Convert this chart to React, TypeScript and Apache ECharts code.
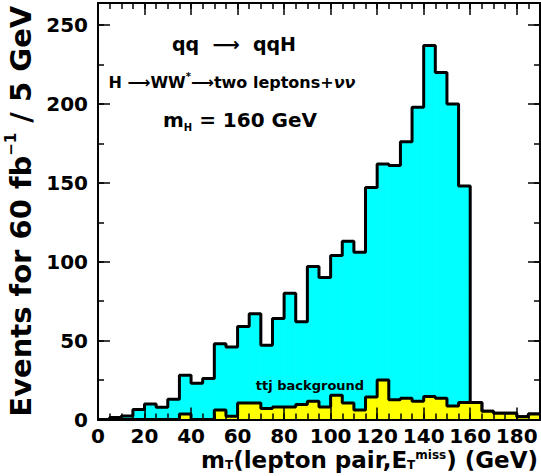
import React, { useEffect, useRef } from 'react';
import * as echarts from 'echarts';

// Histogram bins (GeV, lower edges), 5 GeV wide
const binStarts = [0, 5, 10, 15, 20, 25, 30, 35, 40, 45, 50, 55, 60, 65, 70, 75, 80, 85, 90, 95,
  100, 105, 110, 115, 120, 125, 130, 135, 140, 145, 150, 155, 160, 165, 170, 175, 180, 185];
const binWidth = 5;
// Total (signal + ttj) events per bin, cyan histogram
const totalEvents = [0, 1.2, 2.2, 6.3, 9.8, 7.8, 12.8, 28, 23, 26, 48, 46, 59, 67, 47, 64, 80, 62, 97, 90,
  104, 113, 106, 147, 162, 161, 176, 198, 237, 220, 200, 148, 10.7, 5.2, 4, 4, 1.7, 3.5];
// ttj background per bin, yellow histogram
const ttjBackground = [0, 0, 0, 0, 0, 0, 0, 3.5, 0, 0, 6, 2, 10.5, 10.5, 7, 8, 8, 9.5, 11.5, 8,
  15.3, 10.5, 6, 14.3, 25, 12.5, 13.5, 11.5, 14.5, 13.5, 8.5, 10.7, 10.7, 5.2, 4, 4, 1.7, 3.5];
const xTickLabels = [0, 20, 40, 60, 80, 100, 120, 140, 160, 180];
const yTickLabels = [0, 50, 100, 150, 200, 250];

export default function App() {
  const ref = useRef<HTMLDivElement>(null);
  useEffect(() => {
    const chart = echarts.init(ref.current!, null, { renderer: 'svg' });
    const font = 'DejaVu Sans';
    const xMax = binStarts[binStarts.length - 1] + binWidth;
    const yMax = 264;
    const last = binStarts.length - 1;
    const totalRects = binStarts.map((x, i) => [x, x + binWidth, totalEvents[i]]);
    const bkgRects = binStarts.map((x, i) => [x, x + binWidth, ttjBackground[i]]);
    const totalStep = [...binStarts.map((x, i) => [x, totalEvents[i]]), [xMax, totalEvents[last]]];
    const bkgStep = [...binStarts.map((x, i) => [x, ttjBackground[i]]), [xMax, ttjBackground[last]]];

    const rectItem = (color: string) => (params: any, api: any) => {
      const lo = api.value(0), hi = api.value(1), v = api.value(2);
      if (!v) return null;
      const p1 = api.coord([lo, v]);
      const p2 = api.coord([hi, 0]);
      return {
        type: 'rect',
        shape: { x: p1[0], y: p1[1], width: p2[0] - p1[0], height: p2[1] - p1[1] },
        style: { fill: color, stroke: color, lineWidth: 0.8 },
      };
    };

    const line = { show: true, onZero: false, lineStyle: { color: '#000', width: 2 } };
    const tick = (len: number) => ({ show: true, inside: true, length: len, lineStyle: { color: '#000', width: 1.5 } });
    const labelStyle = { color: '#000', fontFamily: font, fontWeight: 'bold', fontSize: 20, lineHeight: 18 };

    const xBase = { type: 'value', min: 0, max: xMax, gridIndex: 0, splitLine: { show: false }, z: 10, axisLine: line };
    const yBase = { type: 'value', min: 0, max: yMax, gridIndex: 0, splitLine: { show: false }, z: 10, axisLine: line };

    chart.setOption({
      animation: false,
      backgroundColor: '#fff',
      grid: { left: 98, top: 3, width: 442, height: 416.5, containLabel: false, outerBoundsMode: 'none' },
      xAxis: [
        { ...xBase, position: 'bottom', interval: 20, axisTick: tick(12),
          axisLabel: { ...labelStyle, margin: 7,
            formatter: (v: number) => (xTickLabels.includes(v) ? String(v) : '') } },
        { ...xBase, position: 'bottom', interval: 5, axisTick: tick(6), axisLabel: { show: false } },
        { ...xBase, position: 'top', interval: 20, axisTick: tick(12), axisLabel: { show: false } },
        { ...xBase, position: 'top', interval: 5, axisTick: tick(6), axisLabel: { show: false } },
      ],
      yAxis: [
        { ...yBase, position: 'left', interval: 50, axisTick: tick(12),
          axisLabel: { ...labelStyle, margin: 10,
            formatter: (v: number) => (yTickLabels.includes(v) ? String(v) : '') },
          name: '{a|Events for 60 fb}{s|−1}{a| / 5 GeV}',
          nameLocation: 'middle', nameRotate: 90, nameGap: 60,
          nameTextStyle: {
            color: '#000',
            rich: {
              a: { fontFamily: font, fontWeight: 'bold', fontSize: 29, color: '#000', lineHeight: 34 },
              s: { fontFamily: font, fontWeight: 'bold', fontSize: 15, color: '#000', verticalAlign: 'top', lineHeight: 34 },
            },
          } },
        { ...yBase, position: 'left', interval: 25, axisTick: tick(6), axisLabel: { show: false } },
        { ...yBase, position: 'right', interval: 50, axisTick: tick(12), axisLabel: { show: false } },
        { ...yBase, position: 'right', interval: 25, axisTick: tick(6), axisLabel: { show: false } },
      ],
      series: [
        { type: 'custom', name: 'total', xAxisIndex: 0, yAxisIndex: 0, z: 1,
          renderItem: rectItem('#00ffff'), encode: { x: [0, 1], y: 2 }, data: totalRects },
        { type: 'line', name: 'total outline', xAxisIndex: 0, yAxisIndex: 0, z: 2, step: 'end',
          symbol: 'none', lineStyle: { color: '#000', width: 3 }, data: totalStep },
        { type: 'custom', name: 'ttj', xAxisIndex: 0, yAxisIndex: 0, z: 3,
          renderItem: rectItem('#ffff00'), encode: { x: [0, 1], y: 2 }, data: bkgRects },
        { type: 'line', name: 'ttj outline', xAxisIndex: 0, yAxisIndex: 0, z: 4, step: 'end',
          symbol: 'none', lineStyle: { color: '#000', width: 3 }, data: bkgStep },
      ],
      graphic: [
        { type: 'text', x: 234, y: 44, z: 20,
          style: { text: 'qq  ⟶  qqH', font: `bold 19px "${font}"`, fill: '#000', align: 'center', verticalAlign: 'middle' } },
        { type: 'text', x: 232, y: 82, z: 20,
          style: {
            text: '{a|H ⟶WW}{s|*}{a|⟶two leptons+}{i|νν}',
            fill: '#000', align: 'center', verticalAlign: 'middle',
            rich: {
              a: { fontFamily: font, fontWeight: 'bold', fontSize: 16, fill: '#000', lineHeight: 22 },
              s: { fontFamily: font, fontWeight: 'bold', fontSize: 10, fill: '#000', verticalAlign: 'top', lineHeight: 22 },
              i: { fontFamily: font, fontWeight: 'bold', fontStyle: 'italic', fontSize: 16, fill: '#000', lineHeight: 22 },
            },
          } },
        { type: 'text', x: 240, y: 120, z: 20,
          style: {
            text: '{a|m}{b|H}{a| = 160 GeV}',
            fill: '#000', align: 'center', verticalAlign: 'middle',
            rich: {
              a: { fontFamily: font, fontWeight: 'bold', fontSize: 20, fill: '#000', lineHeight: 24 },
              b: { fontFamily: font, fontWeight: 'bold', fontSize: 10, fill: '#000', verticalAlign: 'bottom', lineHeight: 24 },
            },
          } },
        { type: 'text', x: 310, y: 385, z: 20,
          style: { text: 'ttj background', font: `bold 13px "${font}"`, fill: '#000', align: 'center', verticalAlign: 'middle' } },
        { type: 'text', x: 538, y: 460, z: 20,
          style: {
            text: '{a|m}{s|T}{a|(lepton pair,E}{s|T}{p|miss}{a|) (GeV)}',
            fill: '#000', align: 'right', verticalAlign: 'middle',
            rich: {
              a: { fontFamily: font, fontWeight: 'bold', fontSize: 23, fill: '#000', lineHeight: 22 },
              s: { fontFamily: font, fontWeight: 'bold', fontSize: 12, fill: '#000', verticalAlign: 'bottom', lineHeight: 22 },
              p: { fontFamily: font, fontWeight: 'bold', fontSize: 12, fill: '#000', verticalAlign: 'top', lineHeight: 22 },
            },
          } },
      ],
    });
    return () => chart.dispose();
  }, []);
  return <div ref={ref} style={{ position: 'fixed', left: 0, top: 0, width: 541, height: 476 }} />;
}
